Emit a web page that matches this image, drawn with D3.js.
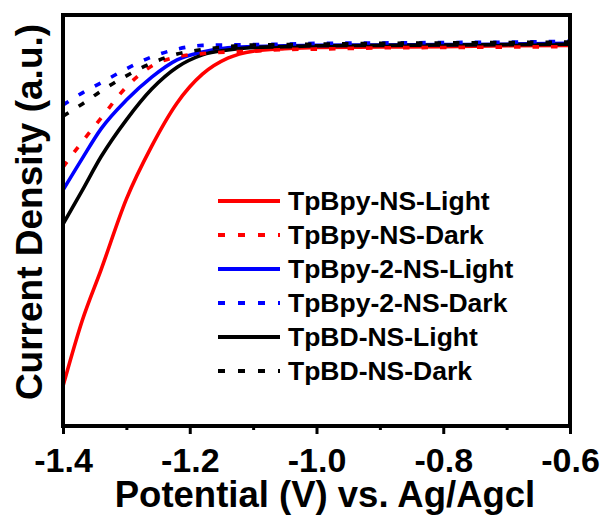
<!DOCTYPE html>
<html>
<head>
<meta charset="utf-8">
<script src="https://cdn.jsdelivr.net/npm/d3@7"></script>
<style>
  html, body { margin: 0; padding: 0; background: #fff; }
  svg { display: block; font-family: "Liberation Sans", Arial, sans-serif; font-weight: bold; }
</style>
</head>
<body>
<svg id="chart" width="603" height="518"></svg>
<script>
// Potential sweep (V vs. Ag/AgCl)
const potential = [-1.40, -1.37, -1.34, -1.30, -1.26, -1.22, -1.18, -1.14, -1.10, -1.05, -1.00, -0.90, -0.80, -0.70, -0.60];

// Current density (a.u.) for each sample / illumination condition
const tpbpyLight  = [9.7, 25.5, 38.0, 55.2, 68.1, 78.6, 85.6, 89.5, 91.2, 91.8, 92.1, 92.2, 92.3, 92.5, 92.6];
const tpbpyDark   = [63.0, 69.1, 74.9, 82.5, 87.6, 89.8, 90.6, 91.0, 91.2, 91.6, 91.7, 92.0, 92.1, 92.2, 92.3];
const tpbpy2Light = [57.4, 65.0, 72.3, 79.3, 84.9, 89.1, 91.0, 92.0, 92.3, 92.5, 92.6, 92.7, 92.8, 92.9, 93.1];
const tpbpy2Dark  = [78.1, 81.0, 83.5, 86.9, 89.8, 91.7, 92.6, 92.7, 92.8, 92.9, 93.1, 93.2, 93.3, 93.4, 93.6];
const tpbdLight   = [49.1, 57.2, 65.5, 74.5, 82.0, 87.3, 90.3, 91.5, 92.1, 92.3, 92.5, 92.6, 92.7, 92.8, 92.9];
const tpbdDark    = [75.4, 78.3, 81.5, 85.2, 88.3, 90.5, 91.6, 92.3, 92.7, 92.8, 92.9, 93.1, 93.2, 93.3, 93.4];

const seriesNames  = ["TpBpy-NS-Light", "TpBpy-NS-Dark", "TpBpy-2-NS-Light", "TpBpy-2-NS-Dark", "TpBD-NS-Light", "TpBD-NS-Dark"];
const seriesValues = [tpbpyLight, tpbpyDark, tpbpy2Light, tpbpy2Dark, tpbdLight, tpbdDark];
const seriesColors = ["#ff0000", "#ff0000", "#0000ff", "#0000ff", "#000000", "#000000"];
const seriesDashed = [false, true, false, true, false, true];

const xTicks = [-1.4, -1.2, -1.0, -0.8, -0.6];
const xMinorTicks = [-1.3, -1.1, -0.9, -0.7];
const xTitle = "Potential (V) vs. Ag/Agcl";
const yTitle = "Current Density (a.u.)";

const svg = d3.select("#chart");
const plot = { left: 63, right: 570, top: 15, bottom: 426 };

const x = d3.scaleLinear().domain([-1.4, -0.6]).range([plot.left, plot.right]);
const y = d3.scaleLinear().domain([0, 100]).range([plot.bottom, plot.top]);

svg.append("clipPath").attr("id", "plot-clip")
  .append("rect")
  .attr("x", plot.left).attr("y", plot.top)
  .attr("width", plot.right - plot.left).attr("height", plot.bottom - plot.top);

const line = d3.line()
  .x((d, i) => x(potential[i]))
  .y(d => y(d))
  .curve(d3.curveMonotoneX);

const dash = "6.5,12";

// solid curves first, dashed curves on top
const order = [0, 2, 4, 1, 3, 5];
const curves = svg.append("g").attr("clip-path", "url(#plot-clip)");
order.forEach(k => {
  curves.append("path")
    .datum(seriesValues[k])
    .attr("d", line)
    .attr("fill", "none")
    .attr("stroke", seriesColors[k])
    .attr("stroke-width", 3.6)
    .attr("stroke-dasharray", seriesDashed[k] ? dash : null);
});

// bottom axis: major ticks with labels, minor ticks between
const xAxis = d3.axisBottom(x).tickValues(xTicks).tickFormat(d3.format(".1f")).tickSize(8).tickSizeOuter(0);
const gx = svg.append("g").attr("transform", `translate(0,${plot.bottom})`).call(xAxis);
gx.select(".domain").remove();
gx.selectAll(".tick line").attr("stroke", "#000").attr("stroke-width", 3);
gx.selectAll(".tick text")
  .attr("fill", "#000")
  .attr("y", 46)
  .attr("dy", 0)
  .style("font-size", "34px")
  .style("font-family", "'Liberation Sans', Arial, sans-serif")
  .style("font-weight", "bold")
  .text(d => d3.format(".1f")(d).replace("−", "-"));

const xMinor = d3.axisBottom(x).tickValues(xMinorTicks).tickFormat("").tickSize(4).tickSizeOuter(0);
const gm = svg.append("g").attr("transform", `translate(0,${plot.bottom})`).call(xMinor);
gm.select(".domain").remove();
gm.selectAll(".tick line").attr("stroke", "#000").attr("stroke-width", 3);

// frame
svg.append("rect")
  .attr("x", plot.left).attr("y", plot.top)
  .attr("width", plot.right - plot.left).attr("height", plot.bottom - plot.top)
  .attr("fill", "none").attr("stroke", "#000").attr("stroke-width", 4);

// axis titles
svg.append("text")
  .attr("x", 325).attr("y", 507)
  .attr("text-anchor", "middle")
  .style("font-size", "36.5px")
  .text(xTitle);

svg.append("text")
  .attr("transform", "translate(42,212) rotate(-90)")
  .attr("text-anchor", "middle")
  .style("font-size", "37px")
  .text(yTitle);

// legend
const legend = svg.append("g");
seriesNames.forEach((name, k) => {
  const ly = 201 + k * 34;
  legend.append("line")
    .attr("x1", 218).attr("x2", 280).attr("y1", ly).attr("y2", ly)
    .attr("stroke", seriesColors[k]).attr("stroke-width", 4)
    .attr("stroke-dasharray", seriesDashed[k] ? "7,13" : null);
  legend.append("text")
    .attr("x", 288).attr("y", ly + 9)
    .style("font-size", "26.5px")
    .text(name);
});
</script>
</body>
</html>
